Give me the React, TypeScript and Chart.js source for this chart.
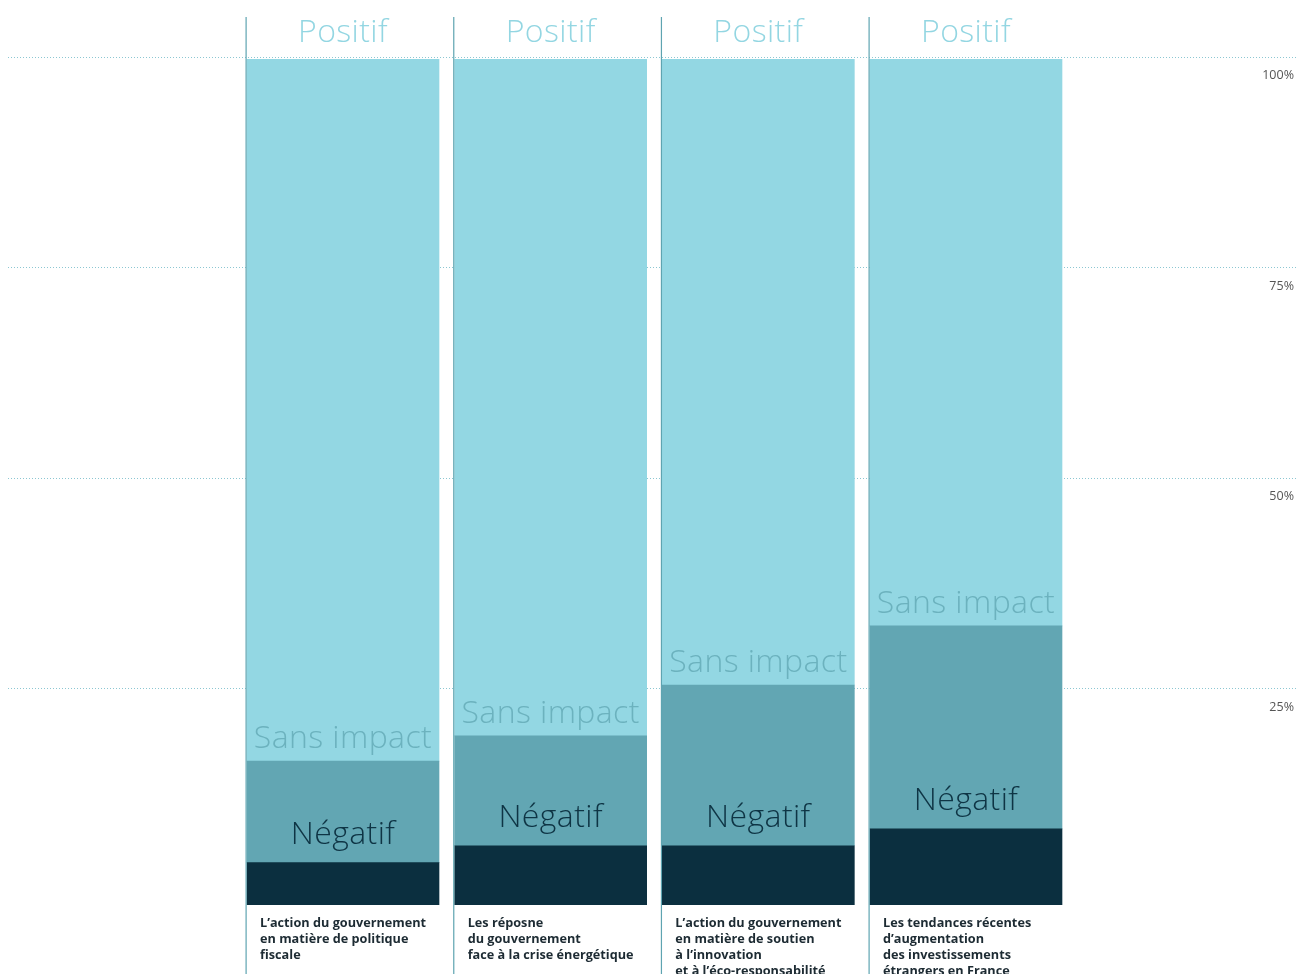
import React, { useEffect, useRef } from 'react';
import { Chart, registerables } from 'chart.js';

Chart.register(...registerables);

// ---- Data ----
const categories: string[][] = [
  ['L’action du gouvernement', 'en matière de politique', 'fiscale'],
  ['Les réposne', 'du gouvernement', 'face à la crise énergétique'],
  ['L’action du gouvernement', 'en matière de soutien', 'à l’innovation', 'et à l’éco-responsabilité'],
  ['Les tendances récentes', 'd’augmentation', 'des investissements', 'étrangers en France'],
];
const seriesNames = ['Négatif', 'Sans impact', 'Positif'];
const negatif = [5, 7, 7, 9];
const sansImpact = [12, 13, 19, 24];
const positif = [83, 80, 74, 67];
const gridTicks = [25, 50, 75, 100];
const tickLabels = ['25%', '50%', '75%', '100%'];

// ---- Styles ----
const fillColors = ['#0b2f3f', '#62a6b3', '#93d7e3'];
const labelColors = ['#0e3444', '#6cb2be', '#93d6e2'];
const labelOffsets = [19, 13, 17];

const overlayPlugin = {
  id: 'overlay',
  beforeDatasetsDraw(chart: any) {
    const ctx = chart.ctx;
    const y2 = chart.scales.y2;
    ctx.save();
    ctx.strokeStyle = '#8cc7d2';
    ctx.lineWidth = 1;
    ctx.setLineDash([1, 2]);
    gridTicks.forEach((v) => {
      const y = Math.round(y2.getPixelForValue(v)) + 0.5;
      ctx.beginPath();
      ctx.moveTo(8, y);
      ctx.lineTo(chart.width, y);
      ctx.stroke();
    });
    ctx.setLineDash([]);
    ctx.fillStyle = '#555555';
    ctx.font = '400 12.5px "Open Sans"';
    ctx.textAlign = 'right';
    ctx.textBaseline = 'middle';
    gridTicks.forEach((v, i) => {
      const y = y2.getPixelForValue(v);
      ctx.fillText(tickLabels[i], chart.width - 4, y + 19);
    });
    ctx.restore();
  },
  afterDatasetsDraw(chart: any) {
    const ctx = chart.ctx;
    ctx.save();
    const baseMeta = chart.getDatasetMeta(0);
    // vertical separator lines
    ctx.strokeStyle = '#5ea4b1';
    ctx.lineWidth = 1.2;
    baseMeta.data.forEach((el: any) => {
      const left = el.x - el.width / 2;
      ctx.beginPath();
      ctx.moveTo(left - 0.9, 17);
      ctx.lineTo(left - 0.9, chart.height);
      ctx.stroke();
    });
    // segment labels
    ctx.textAlign = 'center';
    ctx.textBaseline = 'alphabetic';
    ctx.font = '300 32px "Open Sans"';
    (ctx as any).letterSpacing = '0.4px';
    chart.data.datasets.forEach((ds: any, d: number) => {
      const meta = chart.getDatasetMeta(d);
      ctx.fillStyle = labelColors[d];
      meta.data.forEach((el: any) => {
        ctx.fillText(ds.label, el.x, el.y - labelOffsets[d]);
      });
    });
    (ctx as any).letterSpacing = '0px';
    // category labels
    ctx.textAlign = 'left';
    ctx.fillStyle = '#1d2b33';
    ctx.font = '700 12.7px "Open Sans"';
    baseMeta.data.forEach((el: any, i: number) => {
      const left = el.x - el.width / 2;
      categories[i].forEach((line, j) => {
        ctx.fillText(line, left + 13, el.base + 21.5 + j * 16);
      });
    });
    ctx.restore();
  },
};

export default function App() {
  const ref = useRef<HTMLCanvasElement | null>(null);
  useEffect(() => {
    if (!ref.current) return;
    const chart = new Chart(ref.current, {
      type: 'bar',
      data: {
        labels: categories.map((c) => c.join(' ')),
        datasets: [
          { label: seriesNames[0], data: negatif, backgroundColor: fillColors[0], borderWidth: 0 },
          { label: seriesNames[1], data: sansImpact, backgroundColor: fillColors[1], borderWidth: 0 },
          { label: seriesNames[2], data: positif, backgroundColor: fillColors[2], borderWidth: 0 },
        ],
      },
      options: {
        responsive: false,
        animation: false,
        layout: { padding: { left: 239.17, right: 228.17, top: 59, bottom: 69 } },
        datasets: { bar: { barThickness: 192 } } as any,
        plugins: { legend: { display: false }, tooltip: { enabled: false } },
        scales: {
          x: { stacked: true, display: false },
          y: { stacked: true, display: false, min: 0, max: 100 },
          y2: { type: 'linear', position: 'right', display: false, min: -0.772, max: 99.727 },
        },
      },
      plugins: [overlayPlugin],
    });
    return () => chart.destroy();
  }, []);
  return (
    <div style={{ position: 'absolute', left: 0, top: 0, width: 1298, height: 974 }}>
      <canvas ref={ref} width={1298} height={974} style={{ display: 'block' }} />
    </div>
  );
}
